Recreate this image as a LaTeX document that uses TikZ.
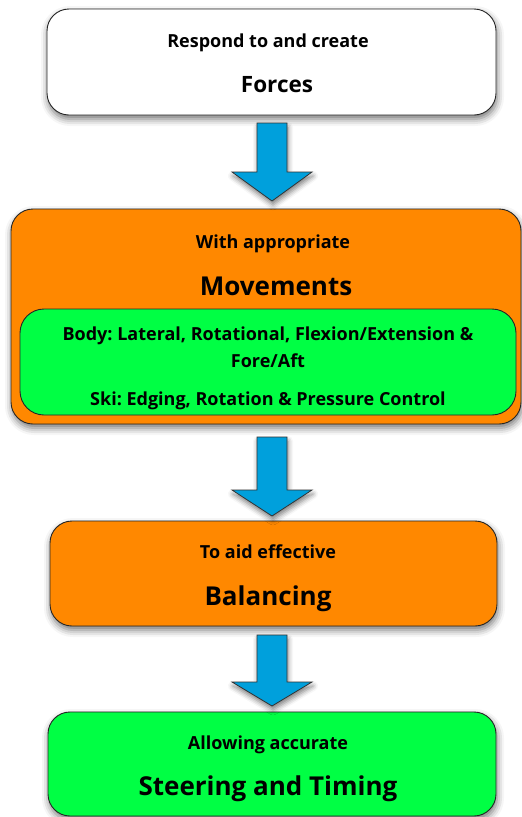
\documentclass[tikz,border=0pt]{standalone}
\usepackage{fontspec}
\setmainfont{Open Sans}
\frenchspacing
\usetikzlibrary{shadows.blur,calc}

\definecolor{cardorange}{RGB}{255,136,0}
\definecolor{cardgreen}{RGB}{0,255,68}
\definecolor{flowblue}{RGB}{0,160,220}

\tikzset{
  card/.style={draw=black!85, line width=0.9pt, rounded corners=22pt,
    blur shadow={shadow xshift=1pt, shadow yshift=-4pt,
      shadow blur radius=7pt, shadow opacity=55}},
  inner card/.style={draw=black!85, line width=0.9pt, rounded corners=24pt},
  small label/.style={anchor=base, font=\bfseries\fontsize{18}{21}\selectfont},
  big label/.style={anchor=base, font=\bfseries\fontsize{26}{30}\selectfont},
  flow arrow/.style={fill=flowblue, draw=black!80, line width=0.8pt, line join=miter,
    blur shadow={shadow xshift=1pt, shadow yshift=-4pt,
      shadow blur radius=5pt, shadow opacity=50}},
}

% block arrow: #1 centre x, #2 shaft top, #3 head start, #4 tip
\newcommand{\blockarrow}[4]{%
  \path[flow arrow] (#1-15,#2) -- (#1+15,#2) -- (#1+15,#3) -- (#1+40,#3)
    -- (#1,#4) -- (#1-40,#3) -- (#1-15,#3) -- cycle;}

\begin{document}
\begin{tikzpicture}[x=1pt, y=-1pt]
  \useasboundingbox (0,0) rectangle (522,817);

  % boxes
  \node[card, fill=white, minimum width=449pt, minimum height=106pt] (forces) at (271.5,62) {};
  \node[card, fill=cardorange, minimum width=510pt, minimum height=215pt] (movements) at (266,316.5) {};
  \node[inner card, fill=cardgreen, minimum width=496pt, minimum height=106pt] (detail) at (268,362) {};
  \node[card, fill=cardorange, minimum width=447pt, minimum height=105pt] (balancing) at (273.5,573.5) {};
  \node[card, fill=cardgreen, minimum width=448pt, minimum height=104pt] (steering) at (272,764) {};

  % connecting block arrows
  \blockarrow{272}{123}{172}{201}
  \blockarrow{272}{437}{490}{516}
  \blockarrow{272}{635}{682}{706}

  % labels
  \node[small label] (t1) at (268,47) {Respond to and create};
  \node[big label, font=\bfseries\fontsize{22.5}{26}\selectfont] (t2) at (277,92) {Forces};
  \node[small label] (t3) at (273,248) {With appropriate};
  \node[big label] (t4) at (276,295) {Movements};
  \node[small label] (t5) at (268,340) {Body: Lateral, Rotational, Flexion/Extension \&};
  \node[small label] (t6) at (268,367) {Fore/Aft};
  \node[small label] (t7) at (268,405) {Ski: Edging, Rotation \& Pressure Control};
  \node[small label] (t8) at (268,558) {To aid effective};
  \node[big label] (t9) at (268,605) {Balancing};
  \node[small label] (t10) at (268,749) {Allowing accurate};
  \node[big label] (t11) at (268,795) {Steering and Timing};
\end{tikzpicture}
\end{document}
